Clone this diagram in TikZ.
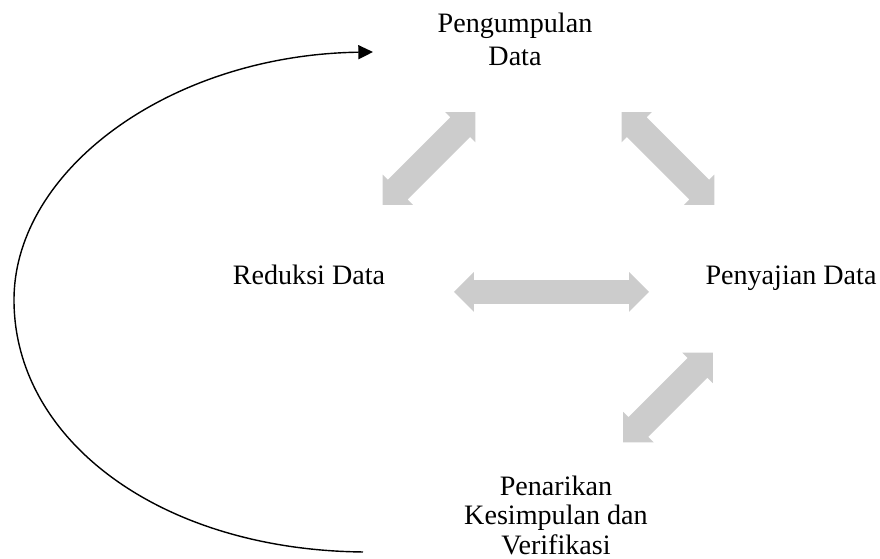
\documentclass[tikz,border=0pt]{standalone}
\usepackage{fontspec}
\setmainfont{Liberation Serif}
\usetikzlibrary{shapes.arrows,arrows.meta}

\tikzset{
    label/.style = {font=\fontsize{12}{14}\selectfont, align=center, inner sep=0pt},
    panah/.style = {double arrow, fill=black!20, draw=none, inner xsep=0pt},
    panahmiring/.style = {panah, inner ysep=0.2025cm, double arrow head extend=0.1125cm, minimum height=1.97cm},
}

\begin{document}
\begin{tikzpicture}[x=0.015cm, y=0.015cm]
            \useasboundingbox (0,0) rectangle (880,559);
            % keterangan
            \node [label] (kumpul) at (515,520) {Pengumpulan\\Data};
            \node [label, anchor=base] (reduksi) at (309,274) {Reduksi Data};
            \node [label, anchor=base] (saji) at (791,274) {Penyajian Data};
            \node [label, font=\fontsize{12}{12.6}\selectfont] (tarik) at (556,44) {Penarikan\\Kesimpulan dan\\Verifikasi};
            % panah abu-abu
            \node [panahmiring, rotate=45] (p1) at (429,400.5) {};
            \node [panahmiring, rotate=-45] (p2) at (668,400.5) {};
            \node [panah, inner ysep=0.1725cm, double arrow head extend=0.12cm, minimum height=2.925cm] (p3) at (551.5,267) {};
            \node [panahmiring, rotate=45, minimum height=1.9cm] (p4) at (668,161.5) {};
            % garis lengkung
            \coordinate (bawah) at (363,7);
            \coordinate (kiri) at (14,259);
            \coordinate (atas) at (373,507);
            \draw [line width=0.6pt, -{Triangle[length=0.22cm, width=0.21cm]}]
                (bawah) .. controls (160,9) and (14,119) .. (kiri)
                .. controls (14,389) and (170,504) .. (atas);
        \end{tikzpicture}
\end{document}
